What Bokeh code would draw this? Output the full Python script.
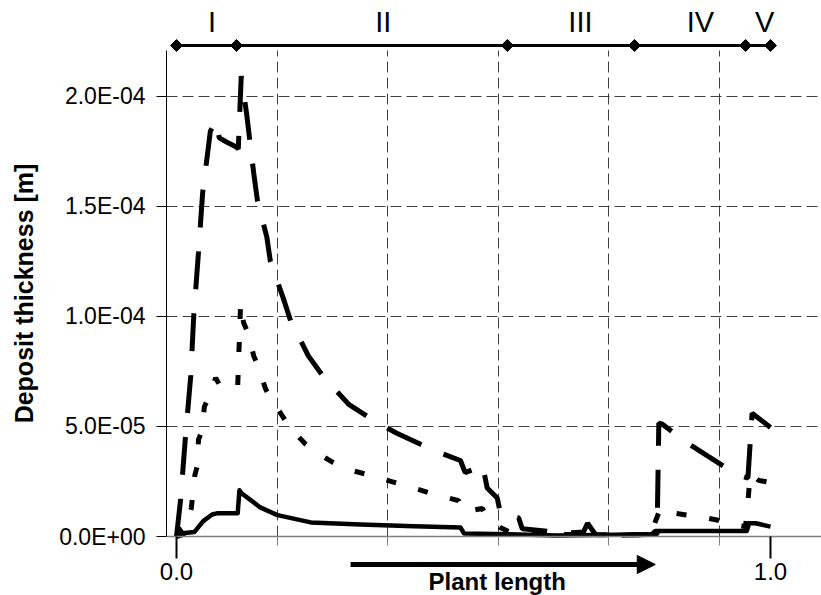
import math
from bokeh.plotting import figure
from bokeh.models import (FixedTicker, CustomJSTickFormatter, PrintfTickFormatter,
                          Arrow, NormalHead, Range1d)
from bokeh.core.properties import value
from bokeh.embed import file_html
from bokeh.resources import INLINE

# ---------------- data (x: normalised plant length, y: deposit thickness in 1e-5 m) -------------
SCALE = 1e-5

series_a_x = [0.0, 0.007, 0.015, 0.024, 0.029, 0.037, 0.044, 0.057, 0.066, 0.072, 0.085, 0.100,
              0.104, 0.109, 0.118, 0.130, 0.136, 0.152, 0.158, 0.180, 0.192, 0.222, 0.246, 0.290,
              0.330, 0.370, 0.410, 0.444, 0.478, 0.486, 0.500, 0.515, 0.523, 0.540, 0.546, 0.576,
              0.582, 0.620, 0.655, 0.685, 0.692, 0.705, 0.740, 0.809, 0.812, 0.818, 0.857, 0.886,
              0.944, 0.962, 0.969, 1.000]
series_a_y = [0.0, 1.7, 4.5, 7.3, 10.0, 12.9, 15.6, 18.4, 18.9, 18.1, 17.9, 17.7,
              17.6, 20.9, 19.2, 16.5, 15.3, 13.6, 12.5, 10.8, 9.8, 8.2, 7.3, 6.0,
              5.3, 4.7, 4.2, 3.8, 3.45, 2.9, 3.05, 3.3, 2.2, 1.75, 0.95, 0.85,
              0.35, 0.25, 0.15, 0.2, 0.6, 0.1, 0.05, 0.1, 5.15, 5.1, 4.3, 3.8,
              2.8, 2.65, 5.6, 4.95]

series_b_x = [0.0, 0.012, 0.020, 0.025, 0.031, 0.035, 0.037, 0.043, 0.047, 0.054, 0.066, 0.074,
              0.090, 0.103, 0.108, 0.113, 0.121, 0.130, 0.138, 0.150, 0.158, 0.180, 0.189, 0.217,
              0.231, 0.264, 0.281, 0.330, 0.380, 0.430, 0.475, 0.482, 0.500, 0.515, 0.523, 0.545,
              0.562, 0.600, 0.700, 0.798, 0.805, 0.815, 0.840, 0.880, 0.910, 0.946, 0.958, 0.962,
              0.966, 0.980, 1.000]
series_b_y = [0.0, 0.1, 0.8, 1.3, 2.8, 3.2, 4.4, 4.8, 5.9, 6.3, 7.2, 6.8,
              6.7, 6.8, 10.6, 9.7, 9.2, 8.2, 7.7, 6.7, 6.3, 5.4, 5.0, 4.2,
              3.9, 3.35, 3.1, 2.75, 2.35, 1.95, 1.63, 1.15, 1.2, 1.27, 0.86, 0.41,
              0.18, 0.1, 0.08, 0.08, 0.6, 1.3, 1.05, 0.9, 0.75, 0.5, 0.45, 1.6,
              2.85, 2.55, 2.45]

series_c_x = [0.0, 0.005, 0.010, 0.030, 0.045, 0.060, 0.068, 0.103, 0.106, 0.110, 0.125, 0.141,
              0.170, 0.226, 0.310, 0.400, 0.478, 0.484, 0.560, 0.640, 0.800, 0.806, 0.960, 0.964,
              0.975, 1.000]
series_c_y = [0.0, 0.35, 0.15, 0.2, 0.7, 1.0, 1.05, 1.05, 2.1, 1.95, 1.65, 1.32,
              0.97, 0.64, 0.55, 0.47, 0.41, 0.14, 0.1, 0.05, 0.1, 0.25, 0.25, 0.6,
              0.6, 0.45]

region_bounds = [0.0, 0.101, 0.557, 0.771, 0.958, 1.0]
region_names = ["I", "II", "III", "IV", "V"]
region_label_x = [0.060, 0.348, 0.680, 0.882, 0.990]

x_tick_values = [0.0, 1.0]
x_grid_values = [0.1694, 0.3556, 0.5418, 0.7280, 0.9142]
y_tick_values = [0.0, 5e-5, 1e-4, 1.5e-4, 2e-4]

FONT = "Liberation Sans"

# ---------------- geometry (pixel layout of the page) ----------------
PX = 2.2025e6          # pixels per metre of deposit thickness
Y0_PX = 536            # screen row of zero thickness
XPX = 594.0            # pixels per unit of plant length
X0_PX = 176            # screen column of plant length 0
X_START = -X0_PX / XPX
X_END = (821 - X0_PX) / XPX
X_AXIS_LEFT = (166 - X0_PX) / XPX
Y_START = -(595 - Y0_PX) / PX
Y_END = Y0_PX / PX
Y_PLOT_TOP = (Y0_PX - 50) / PX
Y_BAR = (Y0_PX - 45) / PX
Y_ROMAN = (Y0_PX - 21.5) / PX
Y_ARROW = -(564 - Y0_PX) / PX
Y_XLABEL = -(581 - Y0_PX) / PX

p = figure(width=821, height=595, x_range=Range1d(X_START, X_END),
           y_range=Range1d(Y_START, Y_END),
           output_backend="svg", toolbar_location=None,
           min_border_left=0, min_border_right=0, min_border_top=0, min_border_bottom=0)
p.outline_line_color = None
p.background_fill_color = "white"

p.xgrid.ticker = FixedTicker(ticks=x_grid_values)
p.xgrid.cross_bounds = (0.0, Y_PLOT_TOP)
p.ygrid.ticker = FixedTicker(ticks=y_tick_values)
p.ygrid.cross_bounds = (X_AXIS_LEFT, X_END)
p.grid.grid_line_color = "#404040"
p.grid.grid_line_dash = "11 5"
p.grid.grid_line_width = 1


def sc(vals):
    return [v * SCALE for v in vals]


p.line(series_c_x, sc(series_c_y), line_width=4.5, line_color="black", line_join="round")
p.line(series_b_x, sc(series_b_y), line_width=5, line_color="black", line_dash="10 23")
p.line(series_a_x, sc(series_a_y), line_width=5, line_color="black", line_dash="38 24")

# y axis, drawn at the left edge of the plot area
ya = p.yaxis[0]
ya.fixed_location = X_AXIS_LEFT
ya.bounds = (0.0, Y_PLOT_TOP)
ya.ticker = FixedTicker(ticks=y_tick_values)
ya.formatter = CustomJSTickFormatter(code="""
    const s = tick.toExponential(1);
    const parts = s.split("e");
    const e = parseInt(parts[1]);
    const a = Math.abs(e);
    return parts[0] + "E" + (e < 0 ? "-" : "+") + (a < 10 ? "0" + a : "" + a);
""")
ya.axis_line_color = "black"
ya.axis_line_width = 1
ya.major_tick_line_color = "black"
ya.major_tick_out = 10
ya.major_tick_in = 0
ya.minor_tick_line_color = None
ya.major_label_text_font = FONT
ya.major_label_text_font_size = "23px"
ya.major_label_text_color = "black"
ya.major_label_standoff = 11
ya.axis_label = "Deposit thickness [m]"
ya.axis_label_text_font = FONT
ya.axis_label_text_font_style = "bold"
ya.axis_label_text_font_size = "25px"
ya.axis_label_text_color = "black"
ya.axis_label_standoff = 18

# x axis, drawn at zero thickness
xa = p.xaxis[0]
xa.fixed_location = 0.0
xa.bounds = (X_AXIS_LEFT, X_END)
xa.ticker = FixedTicker(ticks=x_tick_values, minor_ticks=x_grid_values)
xa.formatter = PrintfTickFormatter(format="%.1f")
xa.axis_line_color = "#808080"
xa.axis_line_width = 1.5
xa.major_tick_line_color = "black"
xa.major_tick_line_width = 2
xa.major_tick_out = 22
xa.major_tick_in = 0
xa.minor_tick_line_color = "#808080"
xa.minor_tick_line_width = 1
xa.minor_tick_out = 9
xa.minor_tick_in = 0
xa.major_label_text_font = FONT
xa.major_label_text_font_size = "24px"
xa.major_label_text_color = "black"
xa.major_label_standoff = 4

p.add_layout(Arrow(x_start=0.293, y_start=Y_ARROW, x_end=0.806, y_end=Y_ARROW,
                   line_width=5, line_color="black",
                   end=NormalHead(size=18, fill_color="black", line_color="black")))
p.text(x=[0.54], y=[Y_XLABEL], text=["Plant length"], text_font=value(FONT),
       text_font_style="bold", text_font_size="24px", text_color="black",
       text_align="center", text_baseline="middle")

# region bar above the plot
bar_y = [Y_BAR] * len(region_bounds)
p.line(region_bounds, bar_y, line_width=3, line_color="black")
p.scatter(region_bounds, bar_y, marker="square", angle=math.pi / 4, size=8.5,
          fill_color="black", line_color="black")
p.text(x=region_label_x, y=[Y_ROMAN] * len(region_names), text=region_names,
       text_font=value(FONT), text_font_size="29px", text_color="black",
       text_align="center", text_baseline="middle")

open("out.html", "w").write(file_html(p, INLINE))
